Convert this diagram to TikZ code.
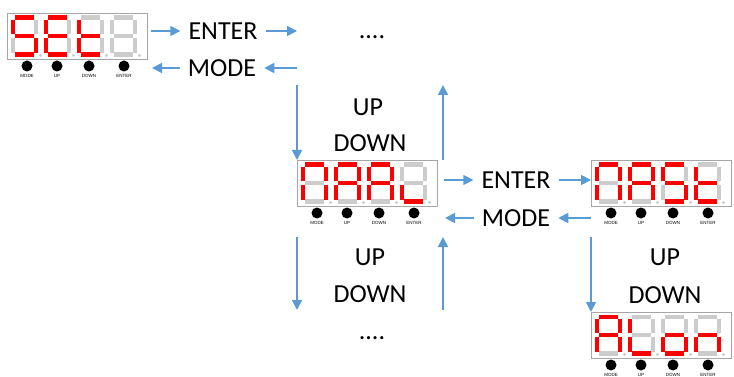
\documentclass[tikz,border=0pt]{standalone}
\usepackage{fontspec}
\setmainfont{Carlito}
\newfontfamily\btnfont{Liberation Sans}
\usetikzlibrary{arrows.meta,positioning}
\definecolor{flowblue}{HTML}{5B9BD5}
\definecolor{segred}{HTML}{FF0000}
\definecolor{seggray}{HTML}{CCCCCC}
\definecolor{framegray}{HTML}{A6A6A6}
\tikzset{
  flow/.style={draw=flowblue, line width=1.6pt, -{Triangle[length=10pt,width=10pt]}},
  keytext/.style={font=\fontsize{26}{28}\selectfont, inner xsep=8pt, inner ysep=0pt},
  segoff/.style={draw=seggray, line width=4.4pt, shorten <=1.9pt, shorten >=1.9pt},
  segon/.style={segoff, draw=segred},
  panel/.style={draw=framegray, line width=1pt, minimum width=140pt, minimum height=46pt,
    inner sep=0pt, anchor=north west},
  btn/.style={fill=black, circle, minimum size=11pt, inner sep=0pt},
  btnlabel/.style={font=\btnfont\fontsize{4.5}{5}\selectfont, inner sep=0pt}
}

% one seven segment digit: #1 top left, #2 lit segments
\newcommand{\segdigit}[2]{%
  \begin{scope}[shift={#1}]
    \coordinate (a1) at (2.2,2.2);  \coordinate (a2) at (25,2.2);
    \coordinate (b1) at (25,2.2);   \coordinate (b2) at (25,20.6);
    \coordinate (c1) at (25,20.6);  \coordinate (c2) at (25,39);
    \coordinate (d1) at (2.2,39);   \coordinate (d2) at (25,39);
    \coordinate (e1) at (2.2,20.6); \coordinate (e2) at (2.2,39);
    \coordinate (f1) at (2.2,2.2);  \coordinate (f2) at (2.2,20.6);
    \coordinate (g1) at (2.2,20.6); \coordinate (g2) at (25,20.6);
    \foreach \s in {a,b,c,d,e,f,g}
      \draw[segoff] (\s1) -- (\s2);
    \def\litsegs{#2}%
    \ifx\litsegs\empty\else
      \foreach \s in {#2}
        \draw[segon] (\s1) -- (\s2);
    \fi
    \fill[seggray] (29.5,40) circle (1.7);
  \end{scope}}

% display with four digits and its four keys: #1 name, #2 top left, #3-#6 digits
\newcommand{\segpanel}[6]{%
  \node[panel] (#1) at #2 {};
  \begin{scope}[shift={#2}]
    \segdigit{(4,2.5)}{#3}
    \segdigit{(37,2.5)}{#4}
    \segdigit{(70,2.5)}{#5}
    \segdigit{(103,2.5)}{#6}
    \foreach \k/\bx in {MODE/20,UP/50,DOWN/82,ENTER/117} {
      \node[btn] (#1-\k) at (\bx,53) {};
      \node[btnlabel, below=2.5pt of #1-\k] {\k};
    }
  \end{scope}}

\begin{document}
\begin{tikzpicture}[x=1pt,y=-1pt]
  \useasboundingbox (0,0) rectangle (734,377);

  % displays
  \segpanel{set}{(7,13)}{a,c,d,f,g}{a,d,e,f,g}{d,e,f,g}{}
  \segpanel{nnal}{(297,160)}{a,b,c,e,f}{a,b,c,e,f,g}{a,b,c,e,f,g}{d,e}
  \segpanel{nast}{(591,160)}{a,b,c,e,f}{a,b,c,e,f,g}{a,c,d,f,g}{d,e,f,g}
  \segpanel{alon}{(591,312)}{a,b,c,e,f,g}{d,e,f}{c,d,e,g}{c,e,g}

  % key names
  \node[keytext] (enterA) at (223,31) {ENTER};
  \node[keytext] (modeA) at (222,68) {MODE};
  \node[keytext] (dotsA) at (372,37) {....};
  \node[keytext] (upA) at (368,107) {UP};
  \node[keytext] (downA) at (370,143) {DOWN};
  \node[keytext] (enterB) at (516,180) {ENTER};
  \node[keytext] (modeB) at (516,218) {MODE};
  \node[keytext] (upB) at (370,257) {UP};
  \node[keytext] (downB) at (370,294) {DOWN};
  \node[keytext] (dotsB) at (372,338) {....};
  \node[keytext] (upC) at (665,257) {UP};
  \node[keytext] (downC) at (665,295) {DOWN};

  % free ends
  \coordinate (outA) at (297,31);
  \coordinate (inA) at (297,68);
  \coordinate (downAtop) at (297,85);
  \coordinate (upAtop) at (443,85);
  \coordinate (downBtop) at (297,237);
  \coordinate (downBbot) at (297,310);
  \coordinate (upBtop) at (443,237);
  \coordinate (upBbot) at (443,310);
  \coordinate (downCtop) at (591,237);
  \coordinate (upCtop) at (739,243);
  \coordinate (upCbot) at (739,310);

  % arrows
  \draw[flow, shorten <=3pt] (set.east |- enterA) -- (enterA.west);
  \draw[flow] (enterA.east) -- (outA);
  \draw[flow] (inA) -- (modeA.east);
  \draw[flow, shorten >=4pt] (modeA.west) -- (set.east |- modeA);
  \draw[flow] (downAtop) -- (nnal.north west);
  \draw[flow] (upAtop |- nnal.north) -- (upAtop);
  \draw[flow, shorten <=6pt] (nnal.east |- enterB) -- (enterB.west);
  \draw[flow] (enterB.east) -- (nast.west |- enterB);
  \draw[flow] (nast.west |- modeB) -- (modeB.east);
  \draw[flow, shorten >=7pt] (modeB.west) -- (nnal.east |- modeB);
  \draw[flow] (downBtop) -- (downBbot);
  \draw[flow] (upBbot) -- (upBtop);
  \draw[flow] (downCtop) -- (alon.north west);
  \draw[flow] (upCbot) -- (upCtop);
\end{tikzpicture}
\end{document}
